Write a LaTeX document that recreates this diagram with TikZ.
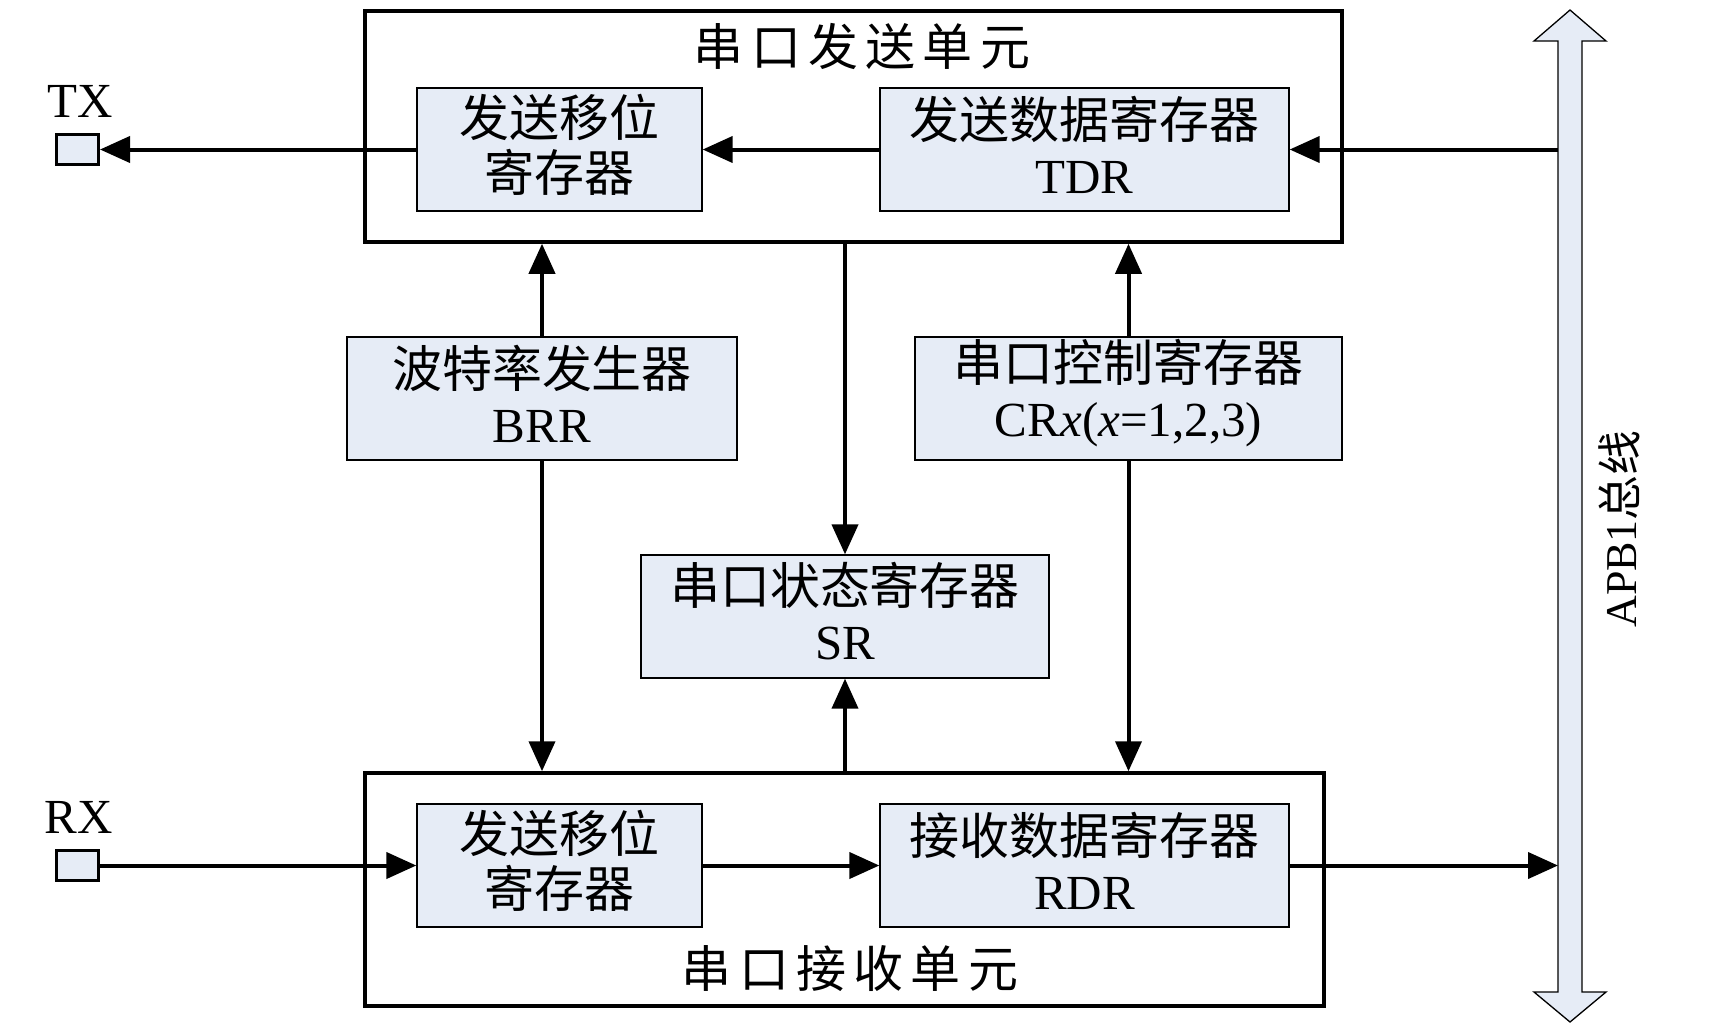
\documentclass[tikz,border=0pt]{standalone}
\usepackage{fontspec}
\setmainfont{Liberation Serif}
\newfontfamily\cjk[Scale=1.02]{Noto Sans CJK SC}
\newfontfamily\cjkt[Scale=1.02,LetterSpace=14.5]{Noto Sans CJK SC}
\usetikzlibrary{arrows.meta}
\definecolor{boxfill}{RGB}{230,236,246}
\begin{document}
\begin{tikzpicture}[x=1pt,y=-1pt,
  reg/.style={draw, line width=1.3pt, fill=boxfill, inner sep=0pt, minimum height=123pt},
  regtxt/.style={align=center, inner sep=0pt, yshift=5pt, font=\fontsize{49}{55}\selectfont},
  unit/.style={draw, line width=3.5pt, inner sep=0pt},
  ttl/.style={inner sep=0pt, font=\fontsize{49}{55}\selectfont},
  arr/.style={line width=4pt, -{Triangle[length=30pt,width=26pt]}},
  pin/.style={draw, line width=3pt, fill=boxfill, minimum width=42pt, minimum height=30pt, inner sep=0pt},
  lbl/.style={inner sep=0pt, font=\fontsize{49}{55}\selectfont}]
\useasboundingbox (0,0) rectangle (1727,1031);

% units
\node[unit, minimum width=977pt, minimum height=231pt] (top) at (853.5,126.5) {};
\node[unit, minimum width=959pt, minimum height=233pt] (bot) at (844.5,889.5) {};
\node[ttl] (ttitle) at (862,46) {\cjkt 串口发送单元};
\node[ttl] (btitle) at (850,969) {\cjkt 串口接收单元};

% registers
\node[reg, minimum width=285pt] (tsh) at (559.5,149.5) {};
\node[reg, minimum width=409pt] (tdr) at (1084.5,149.5) {};
\node[reg, minimum width=390pt] (brr) at (542,398.5) {};
\node[reg, minimum width=427pt] (cr) at (1128.5,398.5) {};
\node[reg, minimum width=408pt] (sr) at (845,616.5) {};
\node[reg, minimum width=285pt] (rsh) at (559.5,865.5) {};
\node[reg, minimum width=409pt] (rdr) at (1084.5,865.5) {};

\node[regtxt] (tsht) at (tsh.center) {{\cjk 发送移位}\\{\cjk 寄存器}};
\node[regtxt] (tdrt) at (tdr.center) {{\cjk 发送数据寄存器}\\TDR};
\node[regtxt] (brrt) at (brr.center) {{\cjk 波特率发生器}\\BRR};
\node[regtxt] (crt) at (cr.center) {{\cjk 串口控制寄存器}\\CR\textit{x}(\textit{x}=1,2,3)};
\node[regtxt] (srt) at (sr.center) {{\cjk 串口状态寄存器}\\SR};
\node[regtxt] (rsht) at (rsh.center) {{\cjk 发送移位}\\{\cjk 寄存器}};
\node[regtxt] (rdrt) at (rdr.center) {{\cjk 接收数据寄存器}\\RDR};

% pins
\node[pin] (txpin) at (77.5,149.5) {};
\node[pin] (rxpin) at (77.5,865.5) {};
\node[lbl] (txl) at (80,101.5) {TX};
\node[lbl] (rxl) at (79,817) {RX};

% bus
\draw[line width=1.3pt, fill=boxfill] (1558,41) -- (1534,41) -- (1570,10) -- (1606,41) -- (1582,41)
  -- (1582,992) -- (1606,992) -- (1570,1022) -- (1534,992) -- (1558,992) -- cycle;
\node[rotate=90, inner sep=0pt, font=\fontsize{44}{50}\selectfont] (busl) at (1619,529) {APB1{\cjk 总线}};
\coordinate (busT) at (1558,149.5);
\coordinate (busB) at (1558,865.5);

% horizontal connectors
\draw[arr] (busT) -- (tdr.east);
\draw[arr] (tdr.west) -- (tsh.east);
\draw[arr] (tsh.west) -- (txpin.east);
\draw[arr] (rxpin.east) -- (rsh.west);
\draw[arr] (rsh.east) -- (rdr.west);
\draw[arr] (rdr.east) -- (busB);

% vertical connectors
\draw[arr] (brr.north) -- (brr.north |- top.south);
\draw[arr] (brr.south) -- (brr.south |- bot.north);
\draw[arr] (sr.north |- top.south) -- (sr.north);
\draw[arr] (sr.south |- bot.north) -- (sr.south);
\draw[arr] (cr.north) -- (cr.north |- top.south);
\draw[arr] (cr.south) -- (cr.south |- bot.north);
\end{tikzpicture}
\end{document}
